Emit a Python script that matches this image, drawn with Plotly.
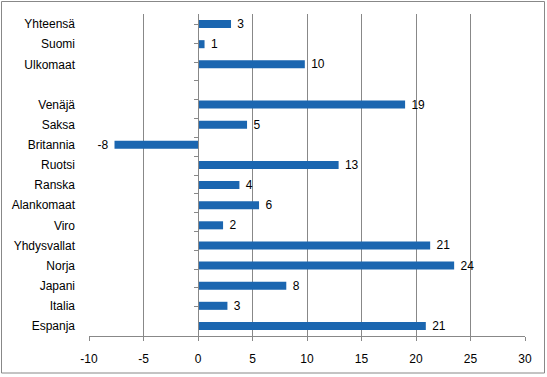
import plotly.graph_objects as go

categories = ["Yhteensä", "Suomi", "Ulkomaat", " ", "Venäjä", "Saksa", "Britannia", "Ruotsi",
              "Ranska", "Alankomaat", "Viro", "Yhdysvallat", "Norja", "Japani", "Italia", "Espanja"]
values = [3.03, 0.6, 9.8, None, 19.0, 4.5, -7.66, 12.9, 3.8, 5.6, 2.3, 21.3, 23.5, 8.1, 2.7, 20.9]
labels = ["3", "1", "10", "", "19", "5", "-8", "13", "4", "6", "2", "21", "24", "8", "3", "21"]
x_ticks = [-10, -5, 0, 5, 10, 15, 20, 25, 30]

W, H = 547, 377
ml, mr, mt, mb = 89, 22, 14, 41
pw, ph = W - ml - mr, H - mt - mb
FONT = "Liberation Sans, Arial, sans-serif"
GRID = "#888888"

nb = "\u00a0"
padded = [("" if not t else (t + nb if t.startswith("-") else nb + t)) for t in labels]

fig = go.Figure()
fig.add_trace(go.Bar(
    y=categories, x=values, orientation="h", width=0.4,
    marker=dict(color="#1b66b0", line=dict(width=0)),
    text=padded, textposition="outside", cliponaxis=False, constraintext="none",
    textfont=dict(family=FONT, size=12, color="#000000"),
    hoverinfo="skip",
))
# invisible trace on the category axis drawn at x=0
fig.add_trace(go.Scatter(y=categories, x=[0] * len(categories), yaxis="y2",
                         mode="markers", marker=dict(opacity=0), hoverinfo="skip", showlegend=False))

pos0 = (0 - x_ticks[0]) / (x_ticks[-1] - x_ticks[0])

fig.update_layout(
    width=W, height=H,
    margin=dict(l=ml, r=mr, t=mt, b=mb, pad=0),
    paper_bgcolor="white", plot_bgcolor="white",
    showlegend=False,
    bargap=0.6,
    uniformtext=dict(mode=False),
    font=dict(family=FONT, size=12, color="#000000"),
    xaxis=dict(range=[x_ticks[0], x_ticks[-1]], tickvals=x_ticks, ticktext=[str(t) for t in x_ticks],
               showgrid=True, gridcolor=GRID, gridwidth=1, automargin=False,
               zeroline=False, showline=True, linecolor=GRID, linewidth=1,
               ticks="outside", ticklen=4, tickcolor=GRID, mirror=False,
               ticklabelstandoff=8, tickfont=dict(size=12)),
    yaxis=dict(categoryorder="array", categoryarray=categories, autorange="reversed",
               showgrid=False, zeroline=False, showline=False, ticks="", automargin=False,
               ticklabelstandoff=13, tickfont=dict(size=12)),
    yaxis2=dict(overlaying="y", anchor="free", position=pos0, side="left", automargin=False,
                categoryorder="array", categoryarray=categories, autorange="reversed",
                showgrid=False, zeroline=False, showline=True, linecolor=GRID, linewidth=1,
                ticks="outside", ticklen=4, tickcolor=GRID, tickson="boundaries",
                showticklabels=False),
    shapes=[dict(type="rect", xref="paper", yref="paper",
                 x0=(1.5 - ml) / pw, x1=1 + (mr - 2.5) / pw,
                 y0=-(mb - 4) / ph, y1=1 + (mt - 1.5) / ph,
                 line=dict(color=GRID, width=1), fillcolor="rgba(0,0,0,0)", layer="below")],
)

fig.write_html("out.html", config={"displayModeBar": False},
               post_script="document.body.style.margin='0';document.body.style.padding='0';")
